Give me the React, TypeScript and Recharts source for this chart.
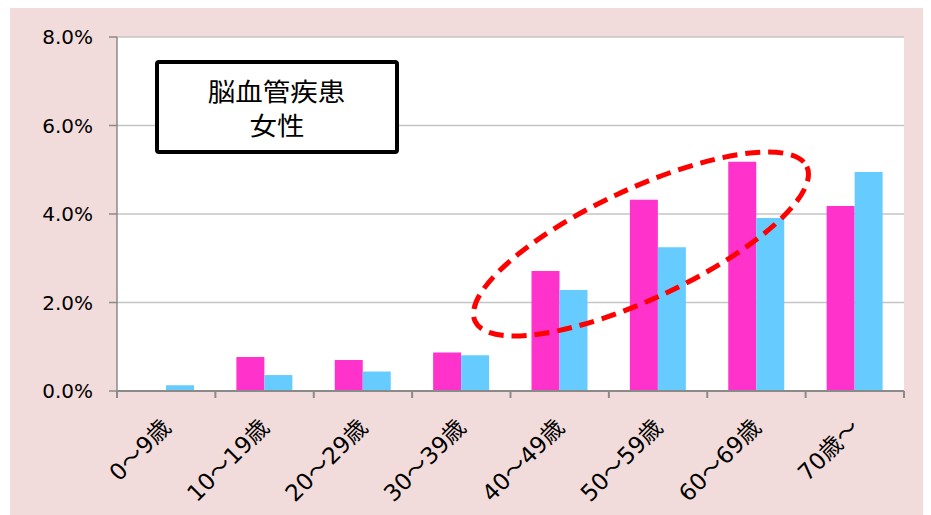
import React from 'react';
import { BarChart, Bar, XAxis, YAxis, CartesianGrid } from 'recharts';

// age groups
const ageGroups = ['0～9歳', '10～19歳', '20～29歳', '30～39歳', '40～49歳', '50～59歳', '60～69歳', '70歳～'];
// percent values
const pinkValues = [0, 0.77, 0.7, 0.87, 2.71, 4.32, 5.18, 4.18];
const blueValues = [0.13, 0.36, 0.44, 0.81, 2.28, 3.25, 3.91, 4.95];
const yTicks = [0, 2, 4, 6, 8];
const titleLines = ['脳血管疾患', '女性'];

const data = ageGroups.map((g, i) => ({ age: g, pink: pinkValues[i], blue: blueValues[i] }));

const AXIS = '#8a8a8a';
const FONT = '"DejaVu Sans", "Noto Sans CJK JP", sans-serif';

// label plus tick marks on the category edges (half a band either side)
const AgeTick = (props: any) => {
  const { x, y, payload, index, visibleTicksCount } = props;
  const half = payload && payload.offset ? payload.offset : 49.2;
  const last = index === (visibleTicksCount ?? ageGroups.length) - 1;
  return (
    <g>
      <line x1={x - half} x2={x - half} y1={y} y2={y + 7} stroke={AXIS} strokeWidth={2} />
      {last && <line x1={x + half} x2={x + half} y1={y} y2={y + 7} stroke={AXIS} strokeWidth={2} />}
      <g transform={`translate(${x + 6},${y + 38})`}>
        <text transform="rotate(-45)" textAnchor="end" fontSize={23} fontFamily={FONT} fill="#000">
          {payload.value}
        </text>
      </g>
    </g>
  );
};

export default function App() {
  return (
    <div style={{ position: 'relative', width: 921, height: 507, marginLeft: 2, background: '#F2DCDB' }}>
      <BarChart
        width={921}
        height={507}
        data={data}
        margin={{ top: 29, right: 27, bottom: 0, left: 0 }}
        barGap={0}
        barSize={28}
      >
        <CartesianGrid vertical={false} fill="#fff" stroke="#c4c4c4" strokeWidth={1.5} />
        <XAxis
          dataKey="age"
          height={124}
          stroke={AXIS}
          strokeWidth={2}
          tickLine={false}
          tickSize={0}
          tickMargin={0}
          interval={0}
          tick={<AgeTick />}
        />
        <YAxis
          width={107}
          domain={[0, 8]}
          ticks={yTicks}
          tickFormatter={(v: number) => v.toFixed(1) + '%'}
          tickSize={8}
          tickMargin={16}
          stroke={AXIS}
          strokeWidth={1.5}
          tick={{ fill: '#000', fontSize: 20, fontFamily: FONT }}
        />
        <Bar dataKey="pink" fill="#FF33CC" isAnimationActive={false} />
        <Bar dataKey="blue" fill="#66CCFF" isAnimationActive={false} />
      </BarChart>

      <div
        style={{
          position: 'absolute',
          left: 145,
          top: 52,
          width: 244,
          height: 94,
          boxSizing: 'border-box',
          border: '4.5px solid #000',
          borderRadius: 4,
          background: '#fff',
          display: 'flex',
          flexDirection: 'column',
          alignItems: 'center',
          justifyContent: 'center',
          fontFamily: '"Noto Sans CJK JP", sans-serif',
          fontSize: 25,
          lineHeight: '34px',
          color: '#000',
        }}
      >
        {titleLines.map((t) => (
          <div key={t} style={{ transform: 'scaleX(1.1)' }}>{t}</div>
        ))}
      </div>

      <svg width={921} height={507} style={{ position: 'absolute', left: 0, top: 0, pointerEvents: 'none' }}>
        <ellipse
          cx={631}
          cy={236}
          rx={183}
          ry={55}
          transform="rotate(-25 631 236)"
          fill="none"
          stroke="#FF0000"
          strokeWidth={5}
          strokeDasharray="15 8"
        />
      </svg>
    </div>
  );
}
